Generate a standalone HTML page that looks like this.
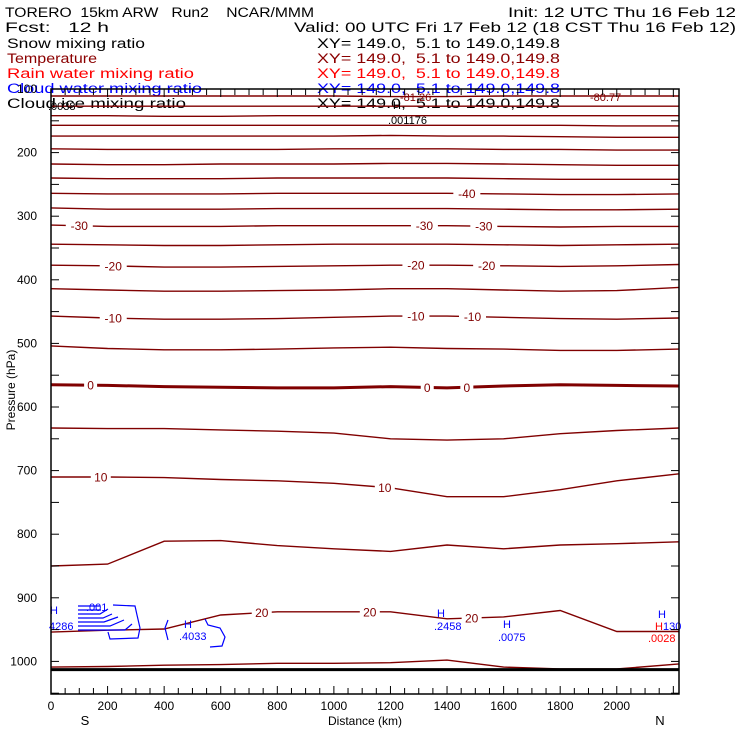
<!DOCTYPE html>
<html><head><meta charset="utf-8"><style>
html,body{margin:0;padding:0;background:#fff;}
svg{display:block;}
text{font-family:"Liberation Sans",sans-serif;}
</style></head><body>
<svg id="chart" width="740" height="740" viewBox="0 0 740 740" xmlns="http://www.w3.org/2000/svg">
<g font-size="13.5">
<text x="5" y="17" textLength="309" lengthAdjust="spacingAndGlyphs" xml:space="preserve">TORERO  15km ARW   Run2    NCAR/MMM</text>
<text x="508" y="17" textLength="228" lengthAdjust="spacingAndGlyphs">Init: 12 UTC Thu 16 Feb 12</text>
<text x="5" y="32" textLength="104" lengthAdjust="spacingAndGlyphs" xml:space="preserve">Fcst:   12 h</text>
<text x="294" y="32" textLength="442" lengthAdjust="spacingAndGlyphs">Valid: 00 UTC Fri 17 Feb 12 (18 CST Thu 16 Feb 12)</text>
<text x="7" y="48" textLength="138" lengthAdjust="spacingAndGlyphs" fill="#000">Snow mixing ratio</text>
<text x="7" y="63" textLength="90" lengthAdjust="spacingAndGlyphs" fill="#8b0000">Temperature</text>
<text x="7" y="78" textLength="187" lengthAdjust="spacingAndGlyphs" fill="#ff0000">Rain water mixing ratio</text>
<text x="7" y="93" textLength="195" lengthAdjust="spacingAndGlyphs" fill="#0000ff">Cloud water mixing ratio</text>
<text x="7" y="108" textLength="179" lengthAdjust="spacingAndGlyphs" fill="#000">Cloud ice mixing ratio</text>
<text x="317" y="48" textLength="243" lengthAdjust="spacingAndGlyphs" xml:space="preserve" fill="#000">XY= 149.0,  5.1 to 149.0,149.8</text>
<text x="317" y="63" textLength="243" lengthAdjust="spacingAndGlyphs" xml:space="preserve" fill="#8b0000">XY= 149.0,  5.1 to 149.0,149.8</text>
<text x="317" y="78" textLength="243" lengthAdjust="spacingAndGlyphs" xml:space="preserve" fill="#ff0000">XY= 149.0,  5.1 to 149.0,149.8</text>
<text x="317" y="93" textLength="243" lengthAdjust="spacingAndGlyphs" xml:space="preserve" fill="#0000ff">XY= 149.0,  5.1 to 149.0,149.8</text>
<text x="317" y="108" textLength="243" lengthAdjust="spacingAndGlyphs" xml:space="preserve" fill="#000">XY= 149.0,  5.1 to 149.0,149.8</text>
</g>
<g id="plot"></g>
<g id="axes"></g>
</svg>
<script>
const knotsKm = [0,200,400,600,800,1000,1200,1400,1600,1800,2000,2220];
const levels = [-80,-75,-70,-65,-60,-55,-50,-45,-40,-35,-30,-25,-20,-15,-10,-5,0,5,10,15,20,25];
const isoP = [
 [111,111,111,111,111,111,112,112,111,111,111,111],
 [127,127,127,127,127,127,127,127,127,127,127,127],
 [142,142,143,143,142,142,142,142,142,142,142,142],
 [157,157,157,157,157,157,157,157,157,157,158,158],
 [174,174,174,174,174,174,173,174,174,175,176,176],
 [194,195,195,195,195,194,194,194,195,195,196,196],
 [218,219,219,218,218,218,217,217,218,219,220,220],
 [240,241,241,241,240,240,240,240,241,242,242,242],
 [264,265,265,265,264,264,264,264,265,266,266,265],
 [287,289,289,289,288,288,288,288,289,290,290,289],
 [314,316,316,316,315,315,315,315,316,317,316,316],
 [344,345,346,346,345,344,344,344,345,346,345,344],
 [377,378,380,380,379,378,377,377,378,379,378,376],
 [414,416,418,418,417,416,414,414,416,418,417,412],
 [457,460,462,462,461,459,457,457,459,461,462,460],
 [504,508,510,510,509,507,506,508,509,511,511,509],
 [565,566,568,569,570,570,568,570,567,565,566,567],
 [633,634,634,636,638,641,650,652,650,642,637,633],
 [710,710,711,714,716,720,727,741,741,730,716,705],
 [850,847,811,810,818,823,827,817,823,817,815,812],
 [954,951,949,927,922,922,922,933,930,920,953,953],
 [1009,1008,1006,1005,1003,1003,1002,998,1009,1012,1012,1004]
];
const labelKm = [100,220,220,140,176,745,1127,1470,1320,1530,1290,1540,1290,1490,1330,1470,1180,1487];
const labelLv = [-30,-20,-10,0,10,20,20,-40,-30,-30,-20,-20,-10,-10,0,0,10,20];
const xTicks = [0,200,400,600,800,1000,1200,1400,1600,1800,2000];
const yTicks = [100,200,300,400,500,600,700,800,900,1000];
const groundP = 1013;

const L=51,R=679,T=89,B=694;
const xs = km => L + km*(R-L)/2220;
const ys = p => T + (p-100)*63.6/100;
const NS="http://www.w3.org/2000/svg";
const plot=document.getElementById('plot'), axes=document.getElementById('axes');
function mk(tag,attrs,parent){const e=document.createElementNS(NS,tag);for(const k in attrs)e.setAttribute(k,attrs[k]);parent.appendChild(e);return e;}
function interpP(i,km){for(let j=0;j<knotsKm.length-1;j++){if(km<=knotsKm[j+1]){const t=(km-knotsKm[j])/(knotsKm[j+1]-knotsKm[j]);return isoP[i][j]+t*(isoP[i][j+1]-isoP[i][j]);}}return isoP[i][knotsKm.length-1];}

levels.forEach((lv,i)=>{
  const pts=knotsKm.map((k,j)=>xs(k).toFixed(1)+','+ys(isoP[i][j]).toFixed(1)).join(' ');
  const pl=mk('polyline',{points:pts,fill:'none',stroke:'#800000','stroke-width':lv===0?3:1.4},plot);
  
  
});
labelKm.forEach((km,n)=>{
  const lv=labelLv[n];
  const i=levels.indexOf(lv); const x=xs(km), y=ys(interpP(i,km));
  const s=String(lv); const w=s.length*7+6;
  const r=mk('rect',{x:x-w/2,y:y-6,width:w,height:12,fill:'#fff'},plot);
  
  
  const t=mk('text',{x:x,y:y+4.5,'text-anchor':'middle','font-size':12,fill:'#800000'},plot);
  t.textContent=s;
  
  
});
const g=mk('line',{x1:L,x2:R,y1:ys(groundP),y2:ys(groundP),stroke:'#000','stroke-width':3},plot);



const blue=[
 "M78,606 L100,606 M78,610 L101,610 M78,614 L100,614 L108,609 M78,618 L103,618 L112,614 M78,622 L104,622 L118,617 M78,626 L110,626 L124,620 M78,630 L125,630 L132,624",
 "M113,605 L135,606 L137,615 L140,628 L138,638 L110,639 L108,632",
 "M168,620 L165,628 L168,640",
 "M205,619 L208,625 L220,628 L225,637 L222,646 L210,647"
];
blue.forEach(d=>{const p=mk('path',{d:d,fill:'none',stroke:'#0000ff','stroke-width':1.2},plot);
 
 });
const ann=[
 [50,614,'H','#0000ff','cloud-water-max-h'],[86,611,'.001','#0000ff','cloud-water-label'],[49,630,'4286','#0000ff','cloud-water-value'],
 [184,628,'H','#0000ff','cloud-water-max-h'],[179,640,'.4033','#0000ff','cloud-water-value'],
 [437,617,'H','#0000ff','cloud-water-max-h'],[434,630,'.2458','#0000ff','cloud-water-value'],
 [503,628,'H','#0000ff','cloud-water-max-h'],[498,641,'.0075','#0000ff','cloud-water-value'],
 [658,618,'H','#0000ff','cloud-water-max-h'],[655,630,'H','#ff0000','rain-max-h'],[663,630,'130','#0000ff','cloud-water-value'],
 [648,642,'.0028','#ff0000','rain-value'],
 [48,110,'.0038','#000','ice-value'],[388,124,'.001176','#000','ice-value'],[393,109,'H','#000','ice-max-h'],
 [400,101,'-81.26','#800000','min-temp-label'],[590,101,'-80.77','#800000','min-temp-label']
];
ann.forEach(a=>{const t=mk('text',{x:a[0],y:a[1],'font-size':11,fill:a[3]},plot);t.textContent=a[2];
 
 });

const fr=mk('rect',{x:L,y:T,width:R-L,height:B-T,fill:'none',stroke:'#000','stroke-width':1.5},axes);


for(let k=0;k<=2200;k+=50){const x=xs(k);const len=(k%200===0)?8:6;
 const a=mk('line',{x1:x,x2:x,y1:B,y2:B-len,stroke:'#000'},axes);
 const b=mk('line',{x1:x,x2:x,y1:T,y2:T+len,stroke:'#000'},axes);}
xTicks.forEach(k=>{const t=mk('text',{x:xs(k),y:B+16,'text-anchor':'middle','font-size':12},axes);t.textContent=k;
 
 });
for(let p=100;p<=1050;p+=50){const y=ys(p);
 const a=mk('line',{x1:L,x2:L+8,y1:y,y2:y,stroke:'#000'},axes);
 const b=mk('line',{x1:R,x2:R-8,y1:y,y2:y,stroke:'#000'},axes);}
yTicks.forEach(p=>{const t=mk('text',{x:37,y:ys(p)+4,'text-anchor':'end','font-size':12},axes);t.textContent=p;
 
 });
const xt=mk('text',{x:365,y:725,'text-anchor':'middle','font-size':12},axes);xt.textContent='Distance (km)';


const yt=mk('text',{x:0,y:0,'text-anchor':'middle','font-size':12,transform:'translate(15,390) rotate(-90)'},axes);yt.textContent='Pressure (hPa)';


const s=mk('text',{x:85,y:725,'text-anchor':'middle','font-size':13},axes);s.textContent='S';


const n=mk('text',{x:660,y:725,'text-anchor':'middle','font-size':13},axes);n.textContent='N';


</script>
</body></html>
